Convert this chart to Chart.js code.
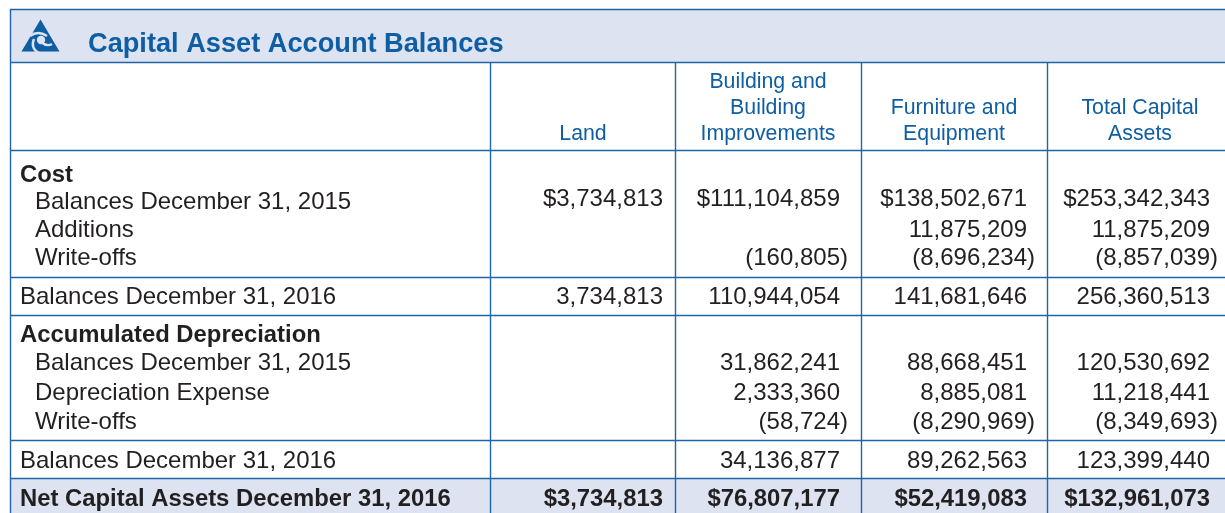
<!DOCTYPE html>
<html><head><meta charset="utf-8">
<style>html,body{margin:0;padding:0;background:#fff}canvas{display:block}</style>
<script src="https://cdn.jsdelivr.net/npm/chart.js@4"></script>
</head><body><canvas id="c" width="1225" height="513"></canvas>
<script>
const title = "Capital Asset Account Balances";
const columnHeaders = [["Land"],["Building and","Building","Improvements"],["Furniture and","Equipment"],["Total Capital","Assets"]];
const rowLabels = ["Cost","Balances December 31, 2015","Additions","Write-offs","Balances December 31, 2016","Accumulated Depreciation","Balances December 31, 2015","Depreciation Expense","Write-offs","Balances December 31, 2016","Net Capital Assets December 31, 2016"];
const land = [null,3734813,null,null,3734813,null,null,null,null,null,3734813];
const building = [null,111104859,null,-160805,110944054,null,31862241,2333360,-58724,34136877,76807177];
const furniture = [null,138502671,11875209,-8696234,141681646,null,88668451,8885081,-8290969,89262563,52419083];
const totalAssets = [null,253342343,11875209,-8857039,256360513,null,120530692,11218441,-8349693,123399440,132961073];
const dollarRows = [1,10];
const boldRows = [0,5,10];
const indentedRows = [1,2,3,6,7,8];

// layout, in page units of the two linear scales
const rowBaselines = [182,209,237,265,304,342,370,400,429,468,506];
const valueBaselines = [182,206,237,265,304,342,370,400,429,468,506];
const colRight = [663,840,1027,1210];
const colCenter = [583,768,954,1140];
const colEdges = [490,675,861,1047];
const hLines = [62,150,277,315,440,478];
const BLUE="#0f5ea3", INK="#231f20", LINE="#1f66a8", BAND="#dde3f0";
const SANS='"Liberation Sans", Arial, sans-serif';

function fmt(v,row){
  if(v===null) return "";
  const s=Math.abs(v).toLocaleString("en-US");
  if(v<0) return "("+s+")";
  return (dollarRows.includes(row)?"$":"")+s;
}
const series=[land,building,furniture,totalAssets];
const datasets=series.map((vals,c)=>({
  label:columnHeaders[c].join(" "),
  data:vals.map((v,r)=>({x:colRight[c],y:valueBaselines[r],v,r})).filter(p=>p.v!==null),
  pointRadius:0,showLine:false
}));

const tablePlugin={
  id:"table",
  beforeDatasetsDraw(chart){
    const {ctx,scales:{x,y}}=chart, X=v=>x.getPixelForValue(v), Y=v=>y.getPixelForValue(v);
    ctx.save();
    ctx.fillStyle=BAND;
    ctx.fillRect(X(10),Y(9),X(1225)-X(10),Y(62)-Y(9));
    ctx.fillRect(X(10),Y(478),X(1225)-X(10),Y(513)-Y(478));
    ctx.strokeStyle=LINE; ctx.lineWidth=1.4;
    const line=(a,b,c,d)=>{ctx.beginPath();ctx.moveTo(X(a),Y(b));ctx.lineTo(X(c),Y(d));ctx.stroke();};
    line(10,9.5,1225,9.5);
    hLines.forEach(h=>line(10,h+.5,1225,h+.5));
    line(10.5,9,10.5,513);
    colEdges.forEach(e=>line(e+.5,62,e+.5,513));
    // logo: triangle cut by three pale curved blades around a pale centre
    ctx.fillStyle=BLUE;
    ctx.beginPath();ctx.moveTo(X(40.5),Y(19.5));ctx.lineTo(X(59.5),Y(51.5));ctx.lineTo(X(21.5),Y(51.5));ctx.closePath();ctx.fill();
    ctx.strokeStyle=BAND;ctx.lineWidth=2.4;ctx.lineCap="butt";
    [[[30,36],[38,30],[47,36]],[[52,44],[47,47],[41,42]],[[39,53],[30,48],[34,39]]].forEach(p=>{
      ctx.beginPath();ctx.moveTo(X(p[0][0]),Y(p[0][1]));ctx.quadraticCurveTo(X(p[1][0]),Y(p[1][1]),X(p[2][0]),Y(p[2][1]));ctx.stroke();});
    ctx.fillStyle=BAND;ctx.beginPath();ctx.arc(X(41),Y(40),4.2,0,Math.PI*2);ctx.fill();
    ctx.restore();
  },
  afterDatasetsDraw(chart){
    const {ctx,scales:{x,y}}=chart, X=v=>x.getPixelForValue(v), Y=v=>y.getPixelForValue(v);
    ctx.save();
    ctx.textBaseline="alphabetic";
    ctx.fillStyle=BLUE; ctx.textAlign="left";
    ctx.font='bold 27.2px '+SANS;
    ctx.fillText(title,X(88),Y(52));
    ctx.font='21.3px '+SANS; ctx.textAlign="center";
    columnHeaders.forEach((ls,c)=>ls.forEach((t,i)=>ctx.fillText(t,X(colCenter[c]),Y(140-(ls.length-1-i)*26))));
    ctx.fillStyle=INK; ctx.textAlign="left";
    rowLabels.forEach((t,r)=>{
      ctx.font=(boldRows.includes(r)?'bold 23.85px ':'24px ')+SANS;
      ctx.fillText(t,X(indentedRows.includes(r)?35:20),Y(rowBaselines[r]));
    });
    ctx.textAlign="right";
    chart.data.datasets.forEach((ds,c)=>{
      const meta=chart.getDatasetMeta(c);
      ds.data.forEach((p,i)=>{
        const pt=meta.data[i];
        ctx.font=(boldRows.includes(p.r)?'bold 23.85px ':'24px ')+SANS;
        const s=fmt(p.v,p.r);
        const hang=(p.v<0&&c>0)?ctx.measureText(")").width:0;
        ctx.fillText(s,pt.x+hang,pt.y);
      });
    });
    ctx.restore();
  }
};
new Chart(document.getElementById("c"),{
  type:"scatter",
  data:{datasets},
  options:{
    responsive:false,animation:false,
    layout:{padding:0},
    plugins:{legend:{display:false},tooltip:{enabled:false},title:{display:false}},
    scales:{
      x:{type:"linear",min:0,max:1225,display:false},
      y:{type:"linear",min:0,max:513,reverse:true,display:false}
    }
  },
  plugins:[tablePlugin]
});
</script></body></html>
